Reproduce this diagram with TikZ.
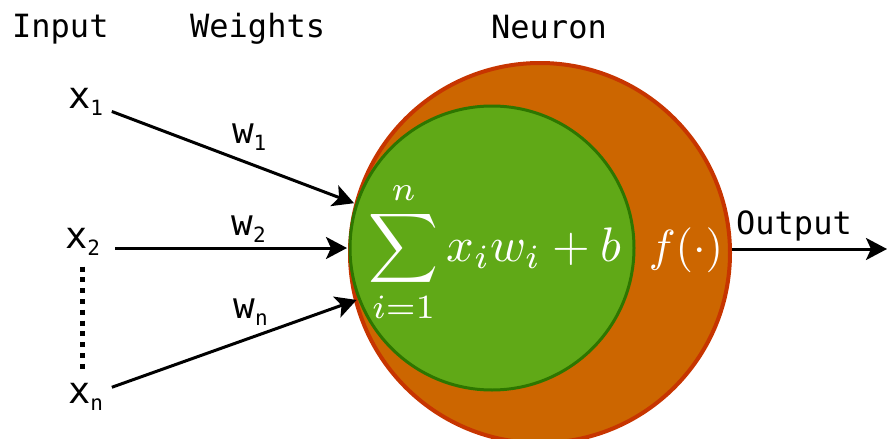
\documentclass[tikz,border=0pt]{standalone}
\usepackage{fontspec}
\usepackage{graphicx}
\setmonofont{DejaVu Sans Mono}
\usetikzlibrary{arrows.meta}

\definecolor{neuronfill}{HTML}{CC6600}
\definecolor{neuronline}{HTML}{C73500}
\definecolor{sumfill}{HTML}{60A917}
\definecolor{sumline}{HTML}{2D7600}

\newcommand{\sublabel}[2]{#1\raisebox{-0.2em}{\fontsize{21}{24}\selectfont #2}}

\tikzset{
  heading/.style={font=\ttfamily\fontsize{32}{36}\selectfont, inner sep=0pt, anchor=base west},
  inlabel/.style={font=\ttfamily\fontsize{37}{42}\selectfont, inner sep=1pt, anchor=base west},
  wlabel/.style={font=\ttfamily\fontsize{36}{40}\selectfont, inner sep=1pt},
  mathtext/.style={text=white, font=\fontsize{10}{12}\selectfont, inner sep=0pt},
  arr/.style={line width=3pt, -{Stealth[length=21pt,width=22pt,inset=5pt]}},
}

\begin{document}
\begin{tikzpicture}[x=1pt,y=-1pt]
\useasboundingbox (0,0) rectangle (887,439);

% headings
\node[heading] (hin) at (12,37) {Input};
\node[heading] (hw) at (190,37) {Weights};
\node[heading] (hn) at (491,38) {Neuron};

% neuron
\node[circle, draw=neuronline, fill=neuronfill, line width=4pt, minimum size=380pt, inner sep=0pt] (neuron) at (540,253) {};
\node[circle, draw=sumline, fill=sumfill, line width=3pt, minimum size=284pt, inner sep=0pt, outer sep=3pt] (sum) at (492,248) {};
\node[mathtext] (sumtext) at (495,252) {\scalebox{4.85}{$\displaystyle\sum_{i=1}^{n} x_i w_i + b$}};
\node[mathtext] (act) at (686,250) {\scalebox{4.5}{$f(\cdot)$}};

% inputs
\node[inlabel] (x1) at (67,108) {\sublabel{x}{1}};
\node[inlabel] (x2) at (64,248) {\sublabel{x}{2}};
\node[inlabel] (xn) at (67,403) {\sublabel{x}{n}};

\draw[arr, shorten <=8pt] (x1) -- (sum.162) node[wlabel, pos=0.58, above=10pt] (w1) {\sublabel{w}{1}};
\draw[arr, shorten <=14pt] (x2.east |- sum.west) -- (sum.west) node[wlabel, pos=0.6, above=3pt] (w2) {\sublabel{w}{2}};
\draw[arr, shorten <=8pt] (xn) -- (sum.201) node[wlabel, pos=0.58, above=10pt] (wn) {\sublabel{w}{n}};

\draw[line width=5pt, dash pattern=on 5pt off 5.8pt, shorten <=10pt, shorten >=12pt] (x2.south -| 82,0) -- (xn.north -| 82,0);

% output
\coordinate (out) at (887,249);
\draw[arr] (neuron.east |- out) -- (out) node[heading, anchor=base, pos=0.4, above=6pt] (hout) {Output};
\end{tikzpicture}
\end{document}
